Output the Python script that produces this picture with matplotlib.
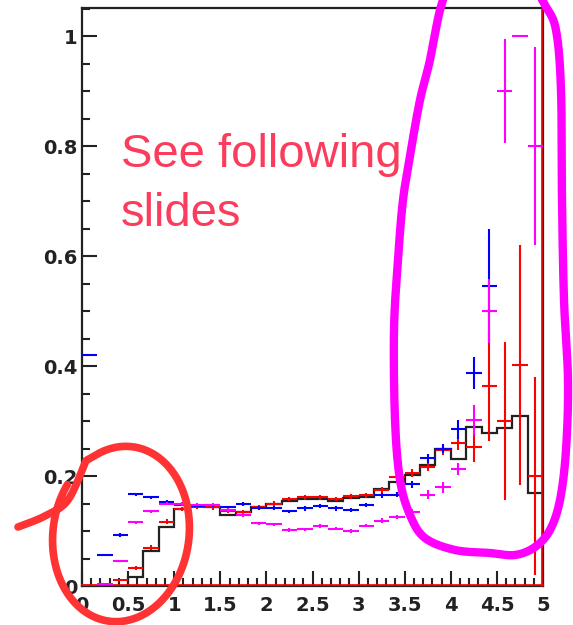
import numpy as np
import matplotlib
matplotlib.use('Agg')
import matplotlib.pyplot as plt
from matplotlib.ticker import MultipleLocator, FuncFormatter

# 30 bins on [0, 5]
bin_edges = np.linspace(0, 5, 31)
nan = np.nan

black_hist = [0, 0, 0, 0.017, 0.064, 0.107, 0.140, 0.145, 0.143, 0.130,
              0.134, 0.143, 0.150, 0.155, 0.158, 0.158, 0.155, 0.160, 0.162, 0.177,
              0.190, 0.202, 0.220, 0.249, 0.231, 0.290, 0.279, 0.287, 0.309, 0.169]

red_vals = [0, 0, 0.011, 0.033, 0.070, 0.117, 0.140, 0.144, 0.143, 0.136,
            0.134, 0.143, 0.150, 0.158, 0.161, 0.161, 0.158, 0.163, 0.165, 0.175,
            0.199, 0.205, 0.217, 0.248, 0.260, 0.252, 0.364, 0.300, 0.402, 0.200]
red_err = [0, 0, 0.002, 0.003, 0.004, 0.004, 0.004, 0.004, 0.004, 0.004,
           0.004, 0.004, 0.004, 0.004, 0.004, 0.004, 0.004, 0.004, 0.005, 0.005,
           0.006, 0.007, 0.008, 0.010, 0.013, 0.026, 0.100, 0.144, 0.218, 0.180]

blue_vals = [0.420, 0.056, 0.093, 0.167, 0.161, 0.153, 0.148, 0.146, 0.147, 0.143,
             0.149, 0.142, 0.142, 0.136, 0.141, 0.145, 0.141, 0.138, 0.147, 0.165,
             0.166, 0.185, 0.232, 0.250, 0.285, 0.388, 0.546, nan, nan, nan]
blue_err = [0, 0.002, 0.003, 0.003, 0.003, 0.003, 0.003, 0.003, 0.003, 0.003,
            0.003, 0.003, 0.003, 0.003, 0.004, 0.004, 0.004, 0.004, 0.004, 0.005,
            0.005, 0.006, 0.008, 0.008, 0.017, 0.029, 0.104, 0, 0, 0]

magenta_vals = [nan, 0.004, 0.046, 0.116, 0.136, 0.150, 0.149, 0.148, 0.148, 0.138,
                0.129, 0.114, 0.112, 0.102, 0.103, 0.109, 0.104, 0.100, 0.110, 0.119,
                0.126, 0.135, 0.166, 0.180, 0.213, 0.302, 0.500, 0.900, 1.000, 0.800]
magenta_err = [0, 0.001, 0.002, 0.003, 0.003, 0.003, 0.003, 0.003, 0.003, 0.003,
               0.003, 0.003, 0.003, 0.003, 0.003, 0.003, 0.003, 0.003, 0.003, 0.004,
               0.004, 0.005, 0.008, 0.010, 0.011, 0.027, 0.059, 0.095, 0, 0.180]

note_lines = ['See following', 'slides']

centers = 0.5 * (bin_edges[:-1] + bin_edges[1:])
half_w = 0.5 * (bin_edges[1] - bin_edges[0])

plt.rcParams['font.family'] = ['Liberation Sans', 'DejaVu Sans']

fig = plt.figure(figsize=(5.73, 6.25), dpi=100)
ax = fig.add_axes([82 / 573, 1 - 586 / 625, 461 / 573, 578 / 625])

ax.stairs(black_hist, bin_edges, color='#222222', lw=1.6, zorder=2)


def draw_points(vals, err, color, z):
    vals = np.asarray(vals, dtype=float)
    ok = ~np.isnan(vals)
    ax.errorbar(centers[ok], vals[ok], xerr=half_w, yerr=np.asarray(err)[ok],
                fmt='none', ecolor=color, elinewidth=1.5, capsize=0, zorder=z)


draw_points(red_vals, red_err, '#ff0000', 3)
draw_points(blue_vals, blue_err, '#0000ff', 4)
draw_points(magenta_vals, magenta_err, '#ff00ff', 5)

# red frame of the overlaid histogram
ax.plot([0, 5], [0.0025, 0.0025], color='#ff0000', lw=1.2, zorder=3, clip_on=False)
ax.plot([4.99, 4.99], [0, 1.05], color='#ff0000', lw=1.2, zorder=3, clip_on=False)

ax.set_xlim(0, 5)
ax.set_ylim(0, 1.051)
for s in ax.spines.values():
    s.set_linewidth(1.6)
    s.set_color('#222222')

ax.xaxis.set_major_locator(MultipleLocator(0.5))
ax.xaxis.set_minor_locator(MultipleLocator(0.1))
ax.yaxis.set_major_locator(MultipleLocator(0.2))
ax.yaxis.set_minor_locator(MultipleLocator(0.05))
fmt = FuncFormatter(lambda v, p: '%g' % round(v, 2))
ax.xaxis.set_major_formatter(fmt)
ax.yaxis.set_major_formatter(fmt)
ax.tick_params(which='both', direction='in', top=False, right=False, width=1.5, color='#222222')
ax.tick_params(which='major', length=11)
ax.tick_params(which='minor', length=5.5)
ax.tick_params(axis='x', which='major', pad=7)
ax.tick_params(axis='y', which='major', pad=3)
for lab in ax.get_xticklabels() + ax.get_yticklabels():
    lab.set_family('DejaVu Sans')
    lab.set_fontsize(14)
    lab.set_fontweight('bold')
    lab.set_color('#222222')


def smooth(xs, ys, n=12):
    # Catmull-Rom through the stroke points
    p = np.column_stack([xs, ys]).astype(float)
    p = np.vstack([p[0], p, p[-1]])
    out = []
    for i in range(1, len(p) - 2):
        p0, p1, p2, p3 = p[i - 1], p[i], p[i + 1], p[i + 2]
        for s in np.linspace(0, 1, n, endpoint=False):
            out.append(0.5 * (2 * p1 + (-p0 + p2) * s
                              + (2 * p0 - 5 * p1 + 4 * p2 - p3) * s ** 2
                              + (-p0 + 3 * p1 - 3 * p2 + p3) * s ** 3))
    out.append(p[-2])
    out = np.array(out)
    return out[:, 0], out[:, 1]


# hand drawn marks on top, in pixel coordinates
ov = fig.add_axes([0, 0, 1, 1], zorder=10)
ov.set_xlim(0, 573)
ov.set_ylim(625, 0)
ov.axis('off')
ov.patch.set_alpha(0)

ov.text(121, 167, note_lines[0], fontsize=34, color='#fb3c5c', va='baseline', ha='left')
ov.text(121, 226, note_lines[1], fontsize=34, color='#fb3c5c', va='baseline', ha='left')

# red loop with its tail
t = np.radians(np.linspace(-118, 208, 200))
phi = np.radians(8)
a, b, cx, cy = 68, 88, 121, 534
ex = cx + a * np.cos(t) * np.cos(phi) - b * np.sin(t) * np.sin(phi)
ey = cy + a * np.cos(t) * np.sin(phi) + b * np.sin(t) * np.cos(phi)
tx, ty = smooth([18, 45, 68, 86], [527, 516, 500, ey[0] + 8], n=10)
ov.plot(np.r_[tx, ex], np.r_[ty, ey], color='#ff3333', lw=5.5,
        solid_capstyle='round', solid_joinstyle='round')

# magenta loop around the high end
mx = [452, 440, 430, 420, 411, 403, 398, 394, 395, 400, 410, 425,
      455, 490, 515, 535, 550, 560, 566, 568, 564, 562, 561, 556, 545, 530]
my = [-25, 10, 60, 100, 150, 200, 260, 330, 420, 480, 515, 538,
      550, 553, 555, 547, 530, 500, 450, 380, 300, 200, 90, 30, 5, -20]
sx, sy = smooth(mx, my)
ov.plot(sx, sy, color='#ff00ff', lw=6, solid_capstyle='round', solid_joinstyle='round')

fig.savefig('out.png', dpi=100)
